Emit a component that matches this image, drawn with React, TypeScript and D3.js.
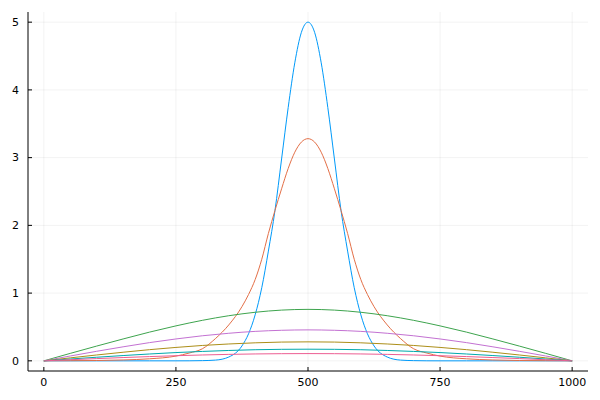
import React from "react";
import * as d3 from "d3";

// x positions for the narrow curves (blue, orange)
const xNarrow = [0, 50, 100, 150, 200, 250, 275, 300, 325, 350, 375, 387.5, 400, 412.5, 425, 437.5, 450, 462.5, 475, 487.5, 500,
  512.5, 525, 537.5, 550, 562.5, 575, 587.5, 600, 612.5, 625, 650, 675, 700, 725, 750, 800, 850, 900, 950, 1000];
const blueY = [0, 0, 0, 0, 0, 0, 0.0005, 0.003, 0.011, 0.056, 0.22, 0.40, 0.68, 1.08, 1.62, 2.22, 2.98, 3.74, 4.40, 4.85, 5.0,
  4.85, 4.40, 3.74, 2.98, 2.22, 1.62, 1.08, 0.68, 0.40, 0.22, 0.056, 0.011, 0.003, 0.0005, 0, 0, 0, 0, 0, 0];
const orangeY = [0, 0.002, 0.005, 0.013, 0.03, 0.07, 0.115, 0.178, 0.33, 0.53, 0.80, 0.98, 1.2, 1.5, 1.88, 2.22, 2.54, 2.84, 3.08, 3.23, 3.28,
  3.23, 3.08, 2.84, 2.54, 2.22, 1.88, 1.5, 1.2, 0.98, 0.80, 0.53, 0.33, 0.178, 0.115, 0.07, 0.03, 0.013, 0.005, 0.002, 0];

// x positions for the broad curves
const xBroad = [0, 50, 100, 150, 200, 250, 300, 350, 400, 450, 500, 550, 600, 650, 700, 750, 800, 850, 900, 950, 1000];
const greenY = [0, 0.110, 0.218, 0.323, 0.424, 0.516, 0.598, 0.666, 0.717, 0.749, 0.760, 0.749, 0.717, 0.666, 0.598, 0.516, 0.424, 0.323, 0.218, 0.110, 0];
const purpleY = [0, 0.0715, 0.141, 0.207, 0.269, 0.323, 0.370, 0.407, 0.435, 0.451, 0.457, 0.451, 0.435, 0.407, 0.370, 0.323, 0.269, 0.207, 0.141, 0.0715, 0];
const oliveY = [0, 0.0438, 0.0865, 0.127, 0.165, 0.198, 0.227, 0.249, 0.266, 0.277, 0.280, 0.277, 0.266, 0.249, 0.227, 0.198, 0.165, 0.127, 0.0865, 0.0438, 0];
const tealY = [0, 0.0269, 0.0531, 0.0781, 0.101, 0.122, 0.139, 0.153, 0.164, 0.170, 0.172, 0.170, 0.164, 0.153, 0.139, 0.122, 0.101, 0.0781, 0.0531, 0.0269, 0];
const pinkY = [0, 0.0167, 0.0331, 0.0486, 0.0629, 0.0757, 0.0866, 0.0953, 0.1018, 0.1057, 0.107, 0.1057, 0.1018, 0.0953, 0.0866, 0.0757, 0.0629, 0.0486, 0.0331, 0.0167, 0];

const xTicks = [0, 250, 500, 750, 1000];
const yTicks = [0, 1, 2, 3, 4, 5];

const seriesList = [
  { xs: xNarrow, ys: blueY, color: "#009AFA" },
  { xs: xNarrow, ys: orangeY, color: "#E36F47" },
  { xs: xBroad, ys: greenY, color: "#3EA44E" },
  { xs: xBroad, ys: purpleY, color: "#C371D2" },
  { xs: xBroad, ys: oliveY, color: "#AC8E18" },
  { xs: xBroad, ys: tealY, color: "#00A9AD" },
  { xs: xBroad, ys: pinkY, color: "#ED5E93" },
];

export default function App() {
  const W = 600, H = 400;
  const left = 28, right = 588, top = 12, bottom = 371;
  const x = d3.scaleLinear().domain([-30, 1030]).range([left, right]);
  const y = d3.scaleLinear().domain([-0.15, 5.15]).range([bottom, top]);
  const line = d3.line<[number, number]>()
    .x((d) => x(d[0]))
    .y((d) => y(d[1]))
    .curve(d3.curveMonotoneX);
  const font = "DejaVu Sans, sans-serif";
  return (
    <svg width={W} height={H} style={{ position: "absolute", left: 0, top: 0, background: "#fff" }}>
      <rect x={0} y={0} width={W} height={H} fill="#fff" />
      {xTicks.map((t) => (
        <line key={"gx" + t} x1={x(t)} x2={x(t)} y1={top} y2={bottom} stroke="#000" strokeOpacity={0.1} strokeWidth={0.5} />
      ))}
      {yTicks.map((t) => (
        <line key={"gy" + t} x1={left} x2={right} y1={y(t)} y2={y(t)} stroke="#000" strokeOpacity={0.1} strokeWidth={0.5} />
      ))}
      <g>
        {seriesList.map((s, i) => (
          <path key={i} d={line(s.xs.map((xv, j) => [xv, s.ys[j]] as [number, number])) || ""}
            fill="none" stroke={s.color} strokeWidth={1} />
        ))}
      </g>
      <line x1={left} x2={right} y1={bottom} y2={bottom} stroke="#000" strokeWidth={1} />
      <line x1={left} x2={left} y1={top} y2={bottom} stroke="#000" strokeWidth={1} />
      {xTicks.map((t) => (
        <g key={"xt" + t}>
          <line x1={x(t)} x2={x(t)} y1={bottom} y2={bottom - 4} stroke="#000" strokeWidth={1} />
          <text x={x(t)} y={bottom + 15} textAnchor="middle" fontFamily={font} fontSize={11} fill="#000">{t}</text>
        </g>
      ))}
      {yTicks.map((t) => (
        <g key={"yt" + t}>
          <line x1={left} x2={left + 4} y1={y(t)} y2={y(t)} stroke="#000" strokeWidth={1} />
          <text x={left - 9} y={y(t)} dy="0.35em" textAnchor="end" fontFamily={font} fontSize={11} fill="#000">{t}</text>
        </g>
      ))}
    </svg>
  );
}
